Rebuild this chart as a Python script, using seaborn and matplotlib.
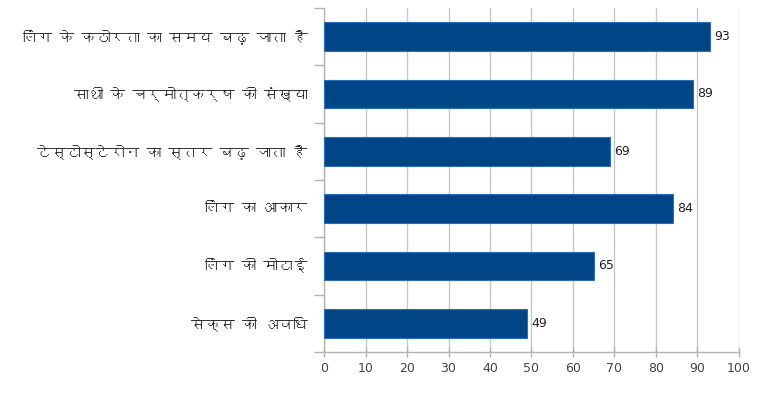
import matplotlib
matplotlib.use("Agg")
import matplotlib.pyplot as plt
from matplotlib import font_manager
from matplotlib.ft2font import FT2Font
import seaborn as sns
import pandas as pd

categories = [
    "लिंग के कठोरता का समय बढ़ जाता है",
    "साथी के चर्मोत्कर्ष की संख्या",
    "टेस्टोस्टेरोन का स्तर बढ़ जाता है",
    "लिंग का आकार",
    "लिंग की मोटाई",
    "सेक्स की अवधि",
]
values = [93, 89, 69, 84, 65, 49]
xticks = [0, 10, 20, 30, 40, 50, 60, 70, 80, 90, 100]

# find a font covering Devanagari, if any
deva_family = None
for f in font_manager.fontManager.ttflist:
    try:
        cm = FT2Font(f.fname).get_charmap()
        if 0x0915 in cm:
            deva_family = f.name
            break
    except Exception:
        pass

sns.set_theme(style="white")
families = ([deva_family] if deva_family else []) + ["DejaVu Sans"]
plt.rcParams["font.family"] = families

df = pd.DataFrame({"label": categories, "value": values})

fig = plt.figure(figsize=(7.68, 3.94), dpi=100)
ax = fig.add_axes([0.4219, 0.1066, 0.5403, 0.8731])

sns.barplot(data=df, y="label", x="value", color="#004586", width=0.5,
            saturation=1, edgecolor="#2a6db5", linewidth=0.8, ax=ax, zorder=3)

ax.set_xlim(0, 100)
ax.set_ylim(5.5, -0.5)
ax.set_xticks(xticks)
ax.set_xticklabels([str(t) for t in xticks], fontsize=9, color="#444444",
                   family=["DejaVu Sans"])
ax.grid(axis="x", color="#c8c8c8", linewidth=1, zorder=0)
ax.set_xlabel("")
ax.set_ylabel("")

# category labels drawn as text; ticks at boundaries
ax.set_yticks([i + 0.5 for i in range(-1, 6)])
ax.set_yticklabels([])
ax.tick_params(axis="y", length=7, color="#b3b3b3", width=1, direction="out", left=True)
ax.tick_params(axis="x", length=7, color="#b3b3b3", width=1, direction="inout", bottom=True, pad=4)
labels = []
for i, c in enumerate(categories):
    t = ax.text(-0.04, i, c, transform=ax.get_yaxis_transform(), ha="right",
                va="center", fontsize=12.5, color="#222222")
    labels.append(t)

# shrink labels so the longest one fits in the left margin like the reference
fig.canvas.draw()
renderer = fig.canvas.get_renderer()
maxw = max(t.get_window_extent(renderer).width for t in labels)
avail = 285.0
if maxw > avail:
    fs = 12.5 * avail / maxw
    for t in labels:
        t.set_fontsize(fs)

for sp in ["top", "right"]:
    ax.spines[sp].set_visible(False)
for sp in ["left", "bottom"]:
    ax.spines[sp].set_color("#b3b3b3")
    ax.spines[sp].set_linewidth(1)

for i, v in enumerate(values):
    ax.text(v + 1.0, i, str(v), ha="left", va="center", fontsize=9,
            color="#222222", family=["DejaVu Sans"])

fig.savefig("out.png", dpi=100)
